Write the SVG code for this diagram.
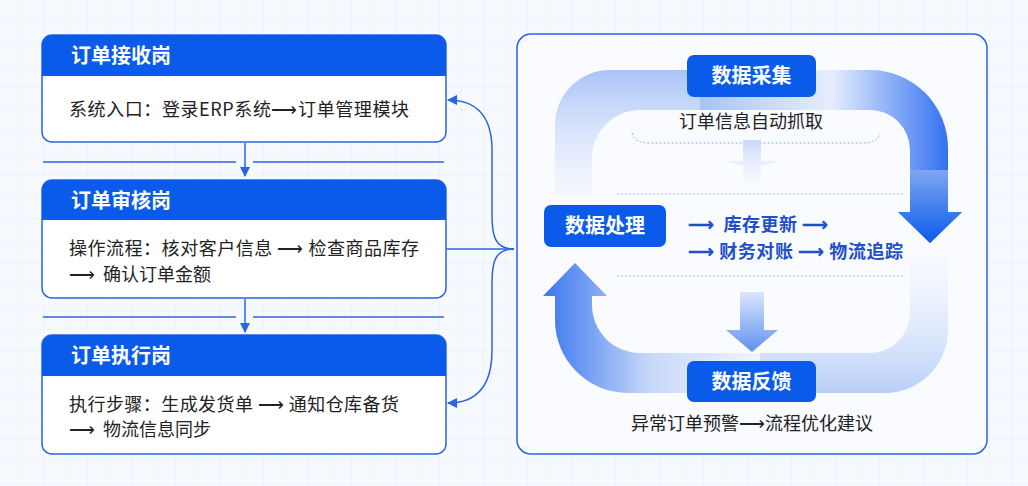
<svg xmlns="http://www.w3.org/2000/svg" width="1028" height="486" viewBox="0 0 1028 486">
<defs>
<style>
.cn{font-family:"Noto Sans CJK SC","Noto Sans",sans-serif}
.hd{font-size:20px;font-weight:700;fill:#fff}
.bd{font-size:18px;fill:#222}
.box{fill:#fff;stroke:#2a63e6;stroke-width:1.5}
.hdr{fill:#0b5bea}
.ln{stroke:#2a63e6;stroke-width:1.5;fill:none}
.pill{fill:#0b5bea}
</style>
<pattern id="grid" width="22" height="22" patternUnits="userSpaceOnUse"><path d="M22 0V22H0" fill="none" stroke="#e8eef8" stroke-width="1"/></pattern>
<marker id="ah" viewBox="0 0 10 10" refX="9" refY="5" markerWidth="7" markerHeight="7" orient="auto"><path d="M0 0L10 5L0 10Z" fill="#2a63e6"/></marker>
<linearGradient id="gTop" x1="0" y1="0" x2="1" y2="0"><stop offset="0" stop-color="#a9c3f7"/><stop offset="0.5" stop-color="#e6eefd"/><stop offset="1" stop-color="#1e63ee"/></linearGradient>
<linearGradient id="gTopL" x1="0" y1="1" x2="0" y2="0"><stop offset="0" stop-color="#e6eefd" stop-opacity="0.3"/><stop offset="1" stop-color="#a9c3f7"/></linearGradient>
<linearGradient id="gR" x1="0" y1="0" x2="0" y2="1"><stop offset="0" stop-color="#7fa6f3"/><stop offset="1" stop-color="#0b5bea"/></linearGradient>
<linearGradient id="gBot" x1="1" y1="0" x2="0" y2="0"><stop offset="0" stop-color="#f0f5fe"/><stop offset="0.5" stop-color="#c9d9fa"/><stop offset="1" stop-color="#3a75ee"/></linearGradient>
<linearGradient id="gBR" x1="0" y1="0" x2="0" y2="1"><stop offset="0" stop-color="#f0f5fe" stop-opacity="0.3"/><stop offset="1" stop-color="#b9cff8"/></linearGradient>
<linearGradient id="gDown" x1="0" y1="0" x2="0" y2="1"><stop offset="0" stop-color="#dbe7fd"/><stop offset="1" stop-color="#5f91f1"/></linearGradient>
<linearGradient id="gDown2" x1="0" y1="0" x2="0" y2="1"><stop offset="0" stop-color="#c9d9fa"/><stop offset="1" stop-color="#eef3fe" stop-opacity="0.3"/></linearGradient>
</defs>
<rect width="1028" height="486" fill="#f6f9fe"/>
<rect width="1028" height="486" fill="url(#grid)"/>

<g id="connectors">
<line class="ln" x1="43" y1="162" x2="236" y2="162"/><line class="ln" x1="253" y1="162" x2="444" y2="162"/>
<line class="ln" x1="43" y1="317" x2="236" y2="317"/><line class="ln" x1="253" y1="317" x2="444" y2="317"/>
<line class="ln" x1="245" y1="143" x2="245" y2="176" marker-end="url(#ah)"/>
<line class="ln" x1="245" y1="299" x2="245" y2="332" marker-end="url(#ah)"/>
<path class="ln" d="M446 249H514"/>
<path class="ln" d="M514 249C495 249 492 236 492 215V150C492 115 475 100 448 100" marker-end="url(#ah)"/>
<path class="ln" d="M514 249C495 249 492 262 492 283V350C492 388 475 403 448 403" marker-end="url(#ah)"/>
</g>

<g id="node-receive">
<rect class="box" x="42" y="35" width="404" height="107" rx="10"/>
<path class="hdr" d="M42 76V45A10 10 0 0 1 52 35H436A10 10 0 0 1 446 45V76Z"/>
<text class="cn hd" x="71" y="63">订单接收岗</text>
<text class="cn bd" x="69" y="116" textLength="340">系统入口：登录ERP系统⟶订单管理模块</text>
</g>
<g id="node-review">
<rect class="box" x="42" y="180" width="404" height="118" rx="10"/>
<path class="hdr" d="M42 220V190A10 10 0 0 1 52 180H436A10 10 0 0 1 446 190V220Z"/>
<text class="cn hd" x="71" y="208">订单审核岗</text>
<text class="cn bd" x="69" y="255" textLength="350">操作流程：核对客户信息 ⟶ 检查商品库存</text>
<text class="cn bd" x="69" y="281">⟶&#160;&#160;确认订单金额</text>
</g>
<g id="node-exec">
<rect class="box" x="42" y="335" width="404" height="119" rx="10"/>
<path class="hdr" d="M42 376V345A10 10 0 0 1 52 335H436A10 10 0 0 1 446 345V376Z"/>
<text class="cn hd" x="71" y="363">订单执行岗</text>
<text class="cn bd" x="69" y="411" textLength="330">执行步骤：生成发货单 ⟶ 通知仓库备货</text>
<text class="cn bd" x="69" y="436">⟶&#160;&#160;物流信息同步</text>
</g>

<g id="panel">
<rect x="517" y="34" width="470" height="420" rx="14" fill="#f9fbff" stroke="#2a63e6" stroke-width="1.5"/>
<path d="M555 195V125A55 55 0 0 1 610 70H700V110H640A48 48 0 0 0 592 158V195Z" fill="url(#gTopL)"/>
<path d="M700 70H870A78 78 0 0 1 948 148V212H962L930 243L898 212H910V150A40 40 0 0 0 870 110H700Z" fill="url(#gTop)"/>
<path d="M910 170H948V212H962L930 243L898 212H910Z" fill="url(#gR)"/>
<path d="M910 255H948V330A63 63 0 0 1 885 393H700V353H870A40 40 0 0 0 910 313Z" fill="url(#gBR)"/>
<path d="M760 353H640A48 48 0 0 1 592 305V296H607L575 263L543 296H555V320A73 73 0 0 0 628 393H760Z" fill="url(#gBot)"/>
<path d="M632 133Q634 143 650 143H862Q878 143 880 133" fill="none" stroke="#8eaef0" stroke-width="1" stroke-dasharray="2 2"/>
<line x1="617" y1="194" x2="905" y2="194" stroke="#a9c0f0" stroke-dasharray="2 2"/>
<line x1="617" y1="276" x2="905" y2="276" stroke="#a9c0f0" stroke-dasharray="2 2"/>
<path d="M743 140H761V161H777L761 166V183H743V166L727 161H743Z" fill="url(#gDown2)"/>
<path d="M740 292H764V330H778L752 352L726 330H740Z" fill="url(#gDown)"/>
</g>

<g id="node-collect">
<rect class="pill" x="687" y="55" width="129" height="42" rx="7"/>
<text class="cn hd" x="751.5" y="83" text-anchor="middle">数据采集</text>
<text class="cn bd" x="751" y="128" text-anchor="middle">订单信息自动抓取</text>
</g>
<g id="node-process">
<rect class="pill" x="544" y="205" width="122" height="42" rx="7"/>
<text class="cn hd" x="605" y="233" text-anchor="middle">数据处理</text>
<text class="cn" x="688" y="231" font-size="18" font-weight="700" fill="#1f4fc9" textLength="140">⟶&#160;&#160;库存更新 ⟶</text>
<text class="cn" x="688" y="258" font-size="18" font-weight="700" fill="#1f4fc9" textLength="215">⟶ 财务对账 ⟶ 物流追踪</text>
</g>
<g id="node-feedback">
<rect class="pill" x="687" y="361" width="129" height="41" rx="7"/>
<text class="cn hd" x="751.5" y="389" text-anchor="middle">数据反馈</text>
<text class="cn bd" x="752" y="430" text-anchor="middle">异常订单预警⟶流程优化建议</text>
</g>
</svg>
